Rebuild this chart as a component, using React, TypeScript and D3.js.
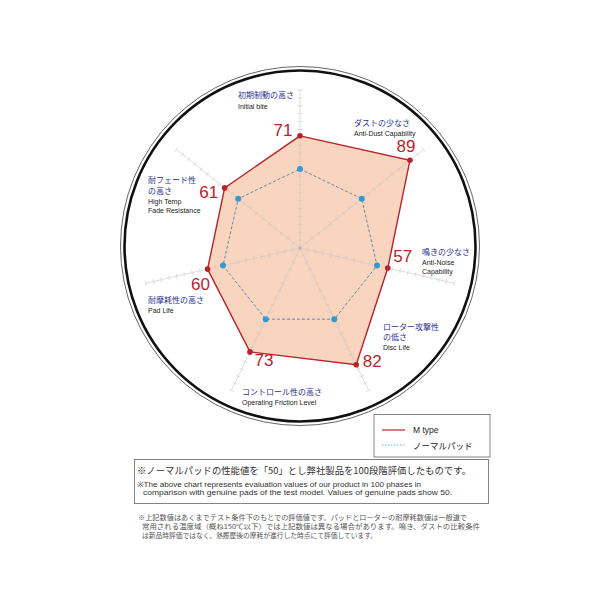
import React from "react";
import * as d3 from "d3";

const categoriesJa: string[][] = [
  ["初期制動の高さ"],
  ["ダストの少なさ"],
  ["鳴きの少なさ"],
  ["ローター攻撃性", "の低さ"],
  ["コントロール性の高さ"],
  ["耐摩耗性の高さ"],
  ["耐フェード性", "の高さ"],
];
const categoriesEn: string[][] = [
  ["Initial bite"],
  ["Anti-Dust Capability"],
  ["Anti-Noise", "Capability"],
  ["Disc Life"],
  ["Operating Friction Level"],
  ["Pad Life"],
  ["High Temp", "Fade Resistance"],
];
const mTypeValues = [71, 89, 57, 82, 73, 60, 61];
const normalValues = [50, 50, 50, 50, 50, 50, 50];
const seriesNames = ["M type", "ノーマルパッド"];
const axisTicks = d3.range(5, 101, 5);

const noteBoxLines = [
  "※ノーマルパッドの性能値を「50」とし弊社製品を100段階評価したものです。",
  "※The above chart represents evaluation values of our product in 100 phases in",
  "comparison with genuine pads of the test model.  Values of genuine pads show 50.",
];
const footnoteLines = [
  "※上記数値はあくまでテスト条件下のもとでの評価値です。パッドとローターの耐摩耗数値は一般道で",
  "常用される温度域（概ね150℃以下）では上記数値は異なる場合があります。鳴き、ダストの比較条件",
  "は新品時評価ではなく、熱履歴後の摩耗が進行した時点にて評価しています。",
];

// layout (not data)
const CX = 300;
const CY = 248;
const labelLayout = [
  { x: 238, y: [98], ey: [109] },
  { x: 354, y: [126], ey: [135.5] },
  { x: 422, y: [254.5], ey: [264.5, 273.5] },
  { x: 383, y: [329.5, 339.5], ey: [349.5] },
  { x: 242, y: [395], ey: [405] },
  { x: 148, y: [303], ey: [313] },
  { x: 148, y: [183, 193.5], ey: [203.5, 212.5] },
];
const numberOffsets = [
  [-17, 0],
  [-4, -8],
  [15, -6],
  [16, 2],
  [14, 14],
  [-7, 21],
  [-16, 10],
];

const JP = "'Noto Sans CJK JP', 'Noto Sans', sans-serif";
const EN = "'Liberation Sans', Arial, sans-serif";

export default function App() {
  const n = categoriesJa.length;
  const r = d3.scaleLinear().domain([0, 100]).range([0, 158]);
  const angle = (i: number) => (i * 2 * Math.PI) / n;
  const px = (i: number, v: number) => CX + r(v) * Math.sin(angle(i));
  const py = (i: number, v: number) => CY - r(v) * Math.cos(angle(i));

  const radial = d3
    .lineRadial<number>()
    .angle((_, i) => angle(i))
    .radius((d) => r(d))
    .curve(d3.curveLinearClosed);

  const red = "#b8232b";
  const fill = "#f9d4bf";

  return (
    <svg
      width={600}
      height={600}
      style={{ position: "absolute", left: 0, top: 0, background: "#fff" }}
    >
      <rect x={0} y={0} width={600} height={600} fill="#fff" />
      {/* double ring */}
      <circle cx={300} cy={246} r={179.5} fill="none" stroke="#666" strokeWidth={1} />
      <circle cx={300} cy={246} r={175.5} fill="none" stroke="#111" strokeWidth={2.6} />

      {/* M type polygon */}
      <path
        d={radial(mTypeValues) || ""}
        transform={`translate(${CX},${CY})`}
        fill={fill}
        stroke="none"
      />

      {/* axes */}
      {categoriesJa.map((_, i) => {
        const a = angle(i);
        const ux = Math.sin(a);
        const uy = -Math.cos(a);
        return (
          <g key={"ax" + i} stroke="#c8c8c8" strokeWidth={0.8} opacity={0.75}>
            <line x1={CX} y1={CY} x2={px(i, 100)} y2={py(i, 100)} />
            {axisTicks.map((t) => {
              const x = px(i, t);
              const y = py(i, t);
              return (
                <line
                  key={t}
                  x1={x - uy * 2.5}
                  y1={y + ux * 2.5}
                  x2={x + uy * 2.5}
                  y2={y - ux * 2.5}
                />
              );
            })}
          </g>
        );
      })}
      <circle cx={CX} cy={CY} r={1.8} fill="#bbb" />

      <path
        d={radial(mTypeValues) || ""}
        transform={`translate(${CX},${CY})`}
        fill="none"
        stroke={red}
        strokeWidth={1.4}
      />

      {/* normal */}
      <path
        d={radial(normalValues) || ""}
        transform={`translate(${CX},${CY})`}
        fill="none"
        stroke="#5b8ea6"
        strokeWidth={1}
        strokeDasharray="3,2"
      />
      {normalValues.map((v, i) => (
        <circle key={"nd" + i} cx={px(i, v)} cy={py(i, v)} r={3} fill="#2f9bd0" />
      ))}
      {mTypeValues.map((v, i) => (
        <circle key={"md" + i} cx={px(i, v)} cy={py(i, v)} r={2.8} fill={red} />
      ))}

      {/* value labels */}
      {mTypeValues.map((v, i) => (
        <text
          key={"vl" + i}
          x={px(i, v) + numberOffsets[i][0]}
          y={py(i, v) + numberOffsets[i][1]}
          textAnchor="middle"
          fontFamily={EN}
          fontSize={17}
          fill={red}
        >
          {v}
        </text>
      ))}

      {/* category labels */}
      {categoriesJa.map((ja, i) => (
        <g key={"cl" + i}>
          {ja.map((s, k) => (
            <text
              key={"j" + k}
              x={labelLayout[i].x}
              y={labelLayout[i].y[k]}
              fontFamily={JP}
              fontSize={8}
              fill="#2e3190"
            >
              {s}
            </text>
          ))}
          {categoriesEn[i].map((s, k) => (
            <text
              key={"e" + k}
              x={labelLayout[i].x}
              y={labelLayout[i].ey[k]}
              fontFamily={EN}
              fontSize={7}
              fill="#222"
            >
              {s}
            </text>
          ))}
        </g>
      ))}

      {/* legend */}
      <rect x={374} y={414.5} width={116} height={42.5} fill="#fff" stroke="#777" strokeWidth={0.9} />
      <line x1={382} y1={430} x2={405} y2={430} stroke={red} strokeWidth={1.2} />
      <text x={413} y={433} fontFamily={EN} fontSize={8.5} fill="#222">
        {seriesNames[0]}
      </text>
      <line x1={382} y1={445} x2={405} y2={445} stroke="#5bb8e4" strokeWidth={1} strokeDasharray="1.5,1.5" />
      <text x={413} y={448.5} fontFamily={JP} fontSize={8.5} fill="#222">
        {seriesNames[1]}
      </text>

      {/* note box */}
      <rect x={134.5} y={459.5} width={354} height={44} fill="#fff" stroke="#777" strokeWidth={0.9} />
      <text x={137} y={474} fontFamily={JP} fontSize={9.6} fill="#333" textLength={334} lengthAdjust="spacingAndGlyphs">
        {noteBoxLines[0]}
      </text>
      <text x={137} y={486.5} fontFamily={EN} fontSize={7.5} fill="#333" textLength={284} lengthAdjust="spacingAndGlyphs">
        {noteBoxLines[1]}
      </text>
      <text x={143} y={494.5} fontFamily={EN} fontSize={7.5} fill="#333" textLength={309} lengthAdjust="spacingAndGlyphs">
        {noteBoxLines[2]}
      </text>

      {/* footnote */}
      {footnoteLines.map((s, k) => (
        <text
          key={"fn" + k}
          x={k === 0 ? 138 : 142}
          y={520 + k * 9}
          fontFamily={JP}
          fontSize={6.8}
          fill="#555"
          textLength={[329, 338, 235][k]}
          lengthAdjust="spacingAndGlyphs"
        >
          {s}
        </text>
      ))}
    </svg>
  );
}
